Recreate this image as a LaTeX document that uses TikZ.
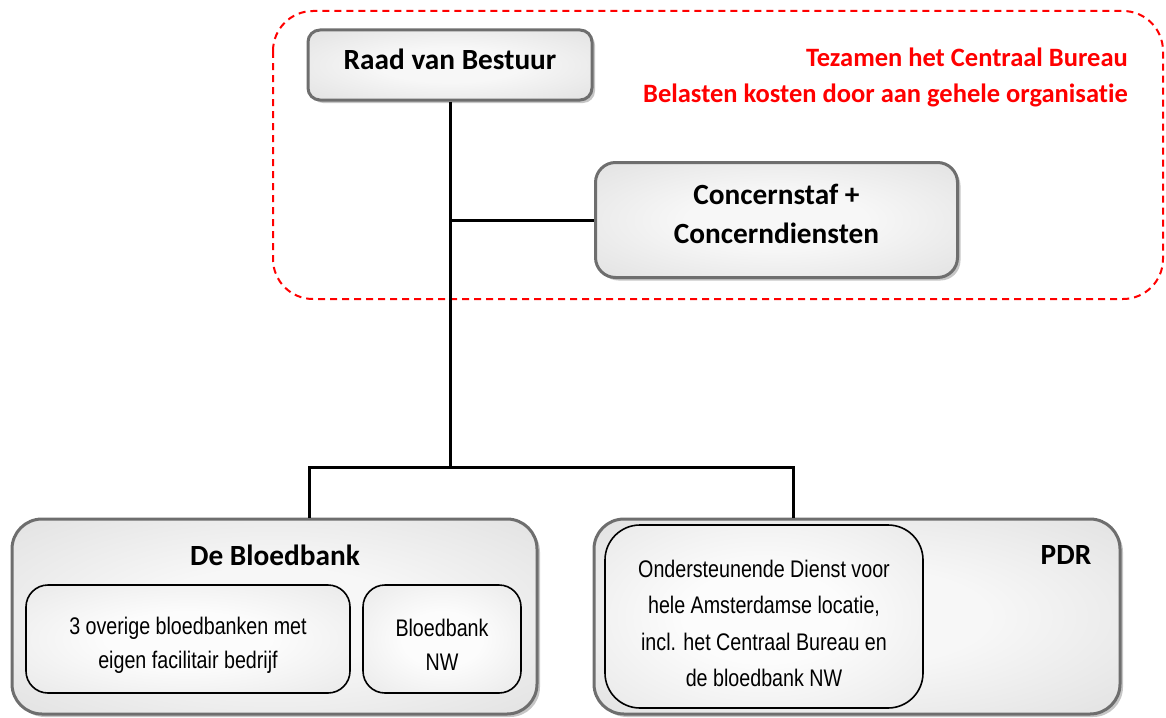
\documentclass[tikz,border=0pt]{standalone}
\usepackage{fontspec}
\setmainfont{Carlito}[RawFeature=-liga]
\newfontfamily\narrowfont[FakeStretch=0.82]{Liberation Sans}
\usepackage{tikz}
\usetikzlibrary{
  positioning,
  shadows
}
\usepackage{xcolor}
\definecolor{boxBorder}{rgb}{0.43,0.43,0.43}
\definecolor{boxLight}{rgb}{0.97,0.97,0.97}
\definecolor{boxDark}{rgb}{0.76,0.76,0.76}
\definecolor{subLight}{rgb}{0.99,0.99,0.99}
\definecolor{subDark}{rgb}{0.80,0.80,0.80}
\definecolor{costRed}{rgb}{1,0,0}
\pgfdeclareradialshading{boxshade}{\pgfpoint{0bp}{0bp}}{%
  color(0bp)=(boxLight); color(12bp)=(boxLight); color(72bp)=(boxDark)}
\pgfdeclareradialshading{subshade}{\pgfpoint{0bp}{0bp}}{%
  color(0bp)=(subLight); color(12bp)=(subLight); color(72bp)=(subDark)}
\tikzset{
  unit/.style={
    draw=boxBorder,
    line width=3pt,
    shade, shading=boxshade,
    drop shadow={shadow xshift=3pt, shadow yshift=-3pt, fill=gray, opacity=0.45},
    font=\fontsize{29.3}{39}\selectfont\bfseries,
    align=center
  },
  subunit/.style={
    draw=black,
    line width=1.6pt,
    rounded corners=22pt,
    shade, shading=subshade,
    font=\narrowfont\fontsize{24}{34}\selectfont,
    align=center
  }
}

\begin{document}
\begin{tikzpicture}[
      x=1pt, y=-1pt,
      link/.style={line width=3pt, draw=black},
      unittitle/.style={font=\fontsize{29.3}{39}\selectfont\bfseries, inner sep=0pt},
      costline/.style={draw=costRed, line width=2pt, dash pattern=on 7pt off 5pt, rounded corners=40pt}
      ]
      \useasboundingbox (0,0) rectangle (1166,717);

      % Centraal Bureau
      \draw[costline] (273,11) rectangle (1163,299);
      \node[font=\fontsize{26.5}{36}\selectfont\bfseries, text=costRed, align=right,
        inner sep=0pt, anchor=north east] (costnote) at (1128,48)
        {Tezamen het Centraal Bureau\\Belasten kosten door aan gehele organisatie};

      \node[unit, minimum width=284pt, minimum height=70pt, rounded corners=12pt]
        (raad) at (450,65) {Raad van Bestuur\rule[-11pt]{0pt}{0pt}};
      \node[unit, minimum width=362pt, minimum height=115pt, rounded corners=20pt]
        (concern) at (776.5,220) {Concernstaf +\\Concerndiensten\rule[-12pt]{0pt}{0pt}};

      % onderdelen
      \node[unit, minimum width=525pt, minimum height=195pt, rounded corners=30pt]
        (bloedbank) at (274.5,616.5) {};
      \node[unit, minimum width=526pt, minimum height=195pt, rounded corners=30pt]
        (pdr) at (857,616.5) {};
      \node[unittitle, anchor=base] (bloedbanktitle) at (275,565) {De Bloedbank};
      \node[unittitle, anchor=base] (pdrtitle) at (1066,564) {PDR};

      \node[subunit, minimum width=324pt, minimum height=108pt]
        (overige) at (188,639) {\rule{0pt}{29pt}3 overige bloedbanken met\\eigen facilitair bedrijf};
      \node[subunit, minimum width=158pt, minimum height=108pt]
        (bloedbanknw) at (442,639) {\rule{0pt}{29pt}Bloedbank\\NW};
      \node[subunit, minimum width=318pt, minimum height=183pt, rounded corners=35pt,
        font=\narrowfont\fontsize{24}{36.5}\selectfont]
        (dienst) at (764,616.5)
        {\rule{0pt}{31pt}Ondersteunende Dienst voor\\hele Amsterdamse locatie,\\incl. het Centraal Bureau en\\de bloedbank NW};

      % lijnen
      \coordinate (hub) at (450,467);
      \coordinate (leftdrop) at (309,467);
      \coordinate (rightdrop) at (793,467);
      \draw[link] (raad.south) -- (hub);
      \draw[link] (raad.south |- concern.west) -- (concern.west);
      \draw[link] (bloedbank.north -| leftdrop) -- (leftdrop) -- (rightdrop)
        -- (pdr.north -| rightdrop);
    \end{tikzpicture}
\end{document}
